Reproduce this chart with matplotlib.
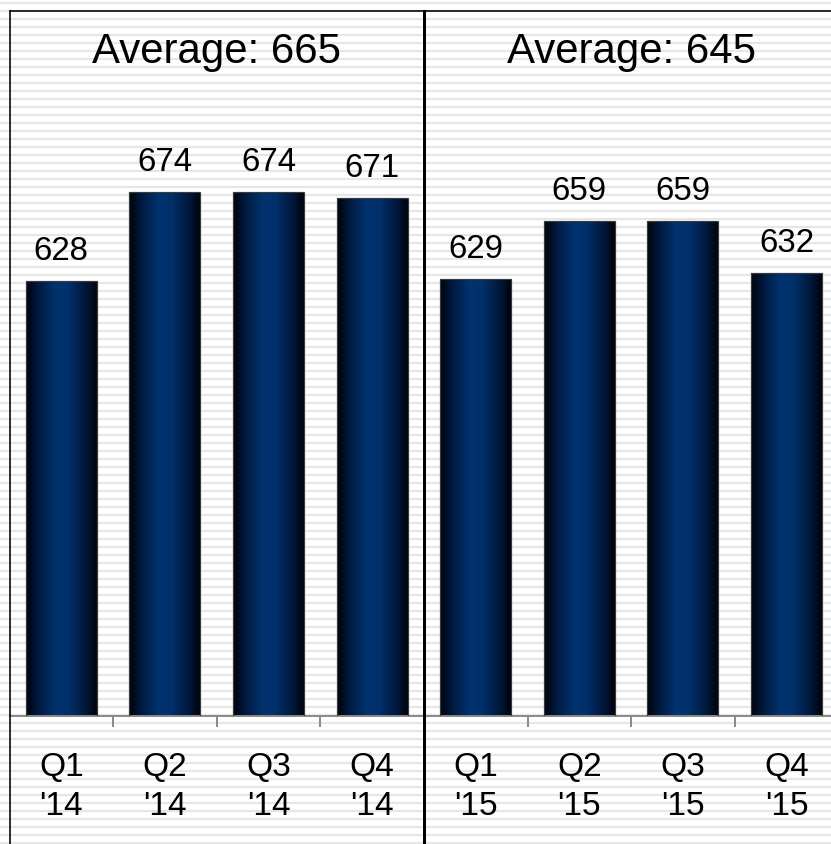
import matplotlib
matplotlib.use("Agg")
import matplotlib.pyplot as plt
import numpy as np
from matplotlib.colors import LinearSegmentedColormap
from matplotlib.patches import Rectangle

# ---- data -------------------------------------------------------------
quarter_labels = ["Q1\n'14", "Q2\n'14", "Q3\n'14", "Q4\n'14",
                  "Q1\n'15", "Q2\n'15", "Q3\n'15", "Q4\n'15"]
values = [628, 674, 674, 671, 629, 659, 659, 632]
group_averages = [665, 645]
group_names = ["2014", "2015"]

# ---- style ------------------------------------------------------------
W, H, DPI = 831, 844, 100
FONT = ["Liberation Sans", "DejaVu Sans"]
plt.rcParams["font.family"] = FONT

def px(p):
    """pixels -> points"""
    return p * 72.0 / DPI

fig = plt.figure(figsize=(W / DPI, H / DPI), dpi=DPI)
fig.patch.set_facecolor("white")

# striped page background
bg = fig.add_axes([0, 0, 1, 1], zorder=-5)
bg.set_xlim(0, W)
bg.set_ylim(H, 0)
bg.axis("off")
stripe_y = np.arange(2.7, H, 8.0)
bg.hlines(stripe_y, 0, W, colors="#e6e6e6", linewidth=px(2.2))

# plot area
left_px, top_px, base_px = 9.5, 11.0, 716.0
slot = 103.6
n = len(values)
ax = fig.add_axes([left_px / W, (H - base_px) / H,
                   n * slot / W, (base_px - top_px) / H])
ax.set_facecolor("none")

ymin, ymax = 402.5, 767.8
x = np.arange(n)
bar_w = 0.685

cmap = LinearSegmentedColormap.from_list(
    "bar_shade",
    [(0.0, "#01040c"), (0.18, "#001a40"), (0.42, "#00336f"),
     (0.6, "#00306a"), (0.84, "#00183c"), (1.0, "#01040c")])
grad = np.linspace(0, 1, 256).reshape(1, -1)

for xi, v in zip(x, values):
    rect = Rectangle((xi - bar_w / 2, ymin), bar_w, v - ymin,
                     facecolor="none", edgecolor="#3a3a3a",
                     linewidth=px(1.2), zorder=3)
    ax.add_patch(rect)
    im = ax.imshow(grad, cmap=cmap, aspect="auto", interpolation="bicubic",
                   extent=[xi - bar_w / 2, xi + bar_w / 2, ymin, v], zorder=2)
    im.set_clip_path(rect)
    ax.annotate(f"{v}", xy=(xi, v), xytext=(0, px(21)),
                textcoords="offset points", ha="center", va="baseline",
                fontsize=px(33), color="black")

ax.set_xlim(-0.5, n - 0.5)
ax.set_ylim(ymin, ymax)

# axes styling
for s in ("right", "left", "top"):
    ax.spines[s].set_visible(False)
ax.spines["bottom"].set_color("#8c8c8c")
ax.spines["bottom"].set_linewidth(px(2))
ax.set_yticks([])
ax.set_xticks(x)
ax.set_xticklabels(quarter_labels, fontsize=px(33.5), linespacing=1.33)
ax.tick_params(axis="x", which="major", length=0, pad=px(36))
ax.set_xticks(np.arange(0.5, n - 1, 1.0), minor=True)
ax.tick_params(axis="x", which="minor", length=px(11), width=px(2),
               color="#8c8c8c", direction="out")

# frame and group separator
frame_kw = dict(color="black", clip_on=False, zorder=6)
ax.axvline(-0.5, ymin=-0.3, ymax=1.0, linewidth=px(1.6), **frame_kw)
ax.axhline(ymax, xmin=0.0, xmax=1.0, linewidth=px(1.6), **frame_kw)
ax.axvline(n / 2 - 0.5, ymin=-0.3, ymax=1.0, linewidth=px(3), **frame_kw)

# group averages
for gi, avg in enumerate(group_averages):
    cx = gi * (n / 2) + (n / 2 - 1) / 2
    ax.text(cx, (base_px - 62.7) / (base_px - top_px), f"Average: {avg}",
            transform=ax.get_xaxis_transform(), ha="center", va="baseline",
            fontsize=px(42), color="black")

fig.savefig("out.png", dpi=DPI)
